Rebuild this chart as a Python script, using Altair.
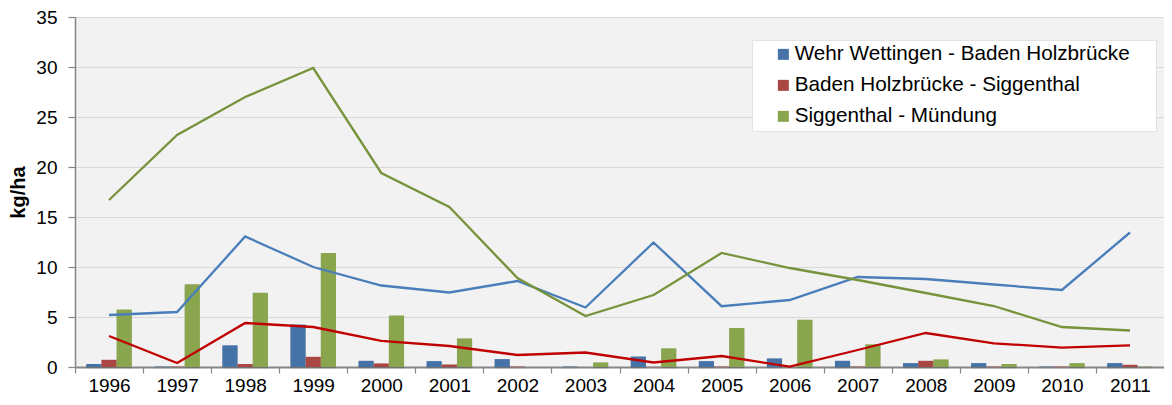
import altair as alt
import pandas as pd

years = [str(y) for y in range(1996, 2012)]
series = [
    "Wehr Wettingen - Baden Holzbrücke",
    "Baden Holzbrücke - Siggenthal",
    "Siggenthal - Mündung",
]

# bar values (kg/ha)
bar_wettingen = [0.30, 0.05, 2.17, 4.24, 0.62, 0.59, 0.79, 0.05, 1.05, 0.59, 0.86, 0.62, 0.39, 0.39, 0.05, 0.39]
bar_holzbruecke = [0.72, 0.05, 0.30, 1.02, 0.36, 0.25, 0.05, 0.00, 0.02, 0.05, 0.02, 0.05, 0.62, 0.05, 0.05, 0.22]
bar_siggenthal = [5.75, 8.28, 7.43, 11.40, 5.16, 2.86, 0.00, 0.46, 1.87, 3.90, 4.73, 2.27, 0.76, 0.30, 0.39, 0.05]

# line values (kg/ha)
line_wettingen = [5.20, 5.50, 13.05, 10.00, 8.15, 7.45, 8.60, 5.95, 12.45, 6.08, 6.70, 9.00, 8.80, 8.25, 7.70, 13.45]
line_holzbruecke = [3.10, 0.40, 4.40, 4.00, 2.62, 2.10, 1.20, 1.45, 0.45, 1.10, 0.03, 1.70, 3.40, 2.37, 1.94, 2.17]
line_siggenthal = [16.70, 23.20, 27.00, 29.90, 19.40, 16.00, 8.90, 5.10, 7.20, 11.40, 9.90, 8.70, 7.40, 6.10, 4.00, 3.65]

y_ticks = [0, 5, 10, 15, 20, 25, 30, 35]

bar_colors = ["#4572A7", "#AA4643", "#89A54E"]
line_colors = ["#4A7EBB", "#C00000", "#77933C"]

bars = pd.DataFrame({
    "Jahr": years * 3,
    "Abschnitt": [s for s in series for _ in years],
    "Wert": bar_wettingen + bar_holzbruecke + bar_siggenthal,
})
lines = pd.DataFrame({
    "Jahr": years * 3,
    "Linie": [s for s in series for _ in years],
    "Wert": line_wettingen + line_holzbruecke + line_siggenthal,
})

FONT = "Liberation Sans"
AXIS_GRAY = "#868686"

x_enc = alt.X(
    "Jahr:N", sort=years,
    scale=alt.Scale(paddingInner=0, paddingOuter=0),
    axis=alt.Axis(
        title=None, labelAngle=0, tickBand="extent", grid=False,
        labelFont=FONT, labelFontSize=19, labelColor="#000000", labelPadding=3,
        tickSize=6, tickColor=AXIS_GRAY, tickWidth=1.2,
        domainColor=AXIS_GRAY, domainWidth=2,
    ),
)
y_enc = alt.Y(
    "Wert:Q",
    scale=alt.Scale(domain=[0, 35], nice=False),
    axis=alt.Axis(
        values=y_ticks, title="kg/ha",
        titleFont=FONT, titleFontSize=20, titleFontWeight="bold", titleColor="#000000",
        titlePadding=7,
        labelFont=FONT, labelFontSize=19, labelColor="#000000", labelPadding=11,
        tickSize=7, tickColor=AXIS_GRAY, tickWidth=1.2,
        domainColor=AXIS_GRAY, domainWidth=1.5,
        gridColor="#D9D9D9", gridWidth=1.2,
    ),
)

x_off = alt.XOffset("Abschnitt:N", sort=series,
                    scale=alt.Scale(paddingInner=0, paddingOuter=0.74))

shadow1 = alt.Chart(bars).mark_bar(color="#000000", opacity=0.10, xOffset=2.5, yOffset=1).encode(
    x=x_enc, xOffset=x_off, y=y_enc,
)
shadow2 = alt.Chart(bars).mark_bar(color="#000000", opacity=0.06, xOffset=4.5, yOffset=2).encode(
    x=x_enc, xOffset=x_off, y=y_enc,
)

bar_layer = alt.Chart(bars).mark_bar().encode(
    x=x_enc,
    xOffset=x_off,
    y=y_enc,
    color=alt.Color(
        "Abschnitt:N", sort=series,
        scale=alt.Scale(domain=series, range=bar_colors),
        legend=alt.Legend(
            title="\u00a0", titleOrient="right", titleOpacity=0, titleFontSize=10,
            titlePadding=22,
            orient="none", legendX=677, legendY=23,
            fillColor="#FFFFFF", strokeColor="#E3E3E3", padding=4,
            symbolType="square", symbolSize=121, symbolStrokeWidth=0,
            symbolOffset=17, labelOffset=1,
            labelFont=FONT, labelFontSize=20.7, labelColor="#000000",
            labelLimit=600, rowPadding=9,
        ),
    ),
)

line_layer = alt.Chart(lines).mark_line(strokeWidth=2.3).encode(
    x=alt.X("Jahr:N", sort=years),
    y=alt.Y("Wert:Q"),
    color=alt.Color("Linie:N", scale=alt.Scale(domain=series, range=line_colors), legend=None),
)

chart = (
    alt.layer(shadow1, shadow2, bar_layer, line_layer)
    .resolve_scale(color="independent")
    .properties(
        width=1089, height=350,
        autosize=alt.AutoSizeParams(type="none"),
        padding={"left": 67, "top": 9, "right": 0, "bottom": 30},
        background="#FFFFFF",
    )
    .configure_view(fill="#F2F2F2", stroke=None)
)

chart.save("out.html", embed_options={"renderer": "svg", "actions": False})
